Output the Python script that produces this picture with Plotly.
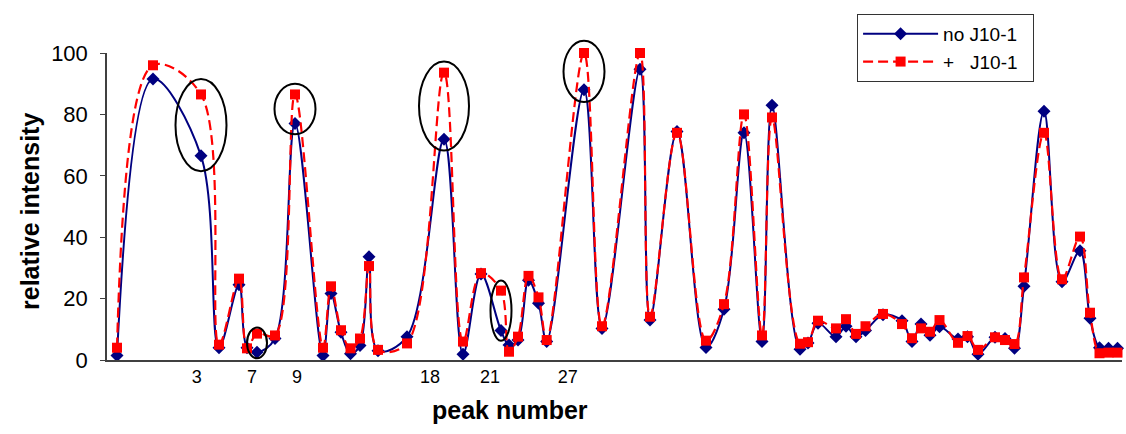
import plotly.graph_objects as go

# peak positions along the separation axis (arbitrary position units)
position = [10, 46, 94, 112, 132, 140, 150, 168, 188, 216, 224, 234, 243.5, 253, 262, 271,
            300, 337, 356, 374, 394, 402, 411, 421.5, 431.5, 439.7, 477, 495, 533, 543, 570,
            599, 617, 637, 655, 665, 693, 701, 711, 729, 739, 749, 758.5, 776, 795, 805, 814,
            823, 832.5, 851, 860.5, 871, 888, 898, 907.5, 917, 937, 955, 973, 983, 992.5,
            1001.5, 1010.5]

no_j10 = [1.5, 91.5, 66.5, 4, 24.5, 4, 2.5, 7, 77, 1.5, 21.7, 9, 2, 4.7, 33.6, 3,
          7.6, 71.9, 1.9, 28, 9.6, 4.9, 6.5, 26, 18.5, 6, 88, 10.3, 94.7, 13, 74.4,
          4.1, 16.5, 74, 6, 83, 3.5, 5.5, 12, 7.6, 11, 7.6, 9.6, 14.7, 12.8, 6, 11.7,
          8.1, 10.8, 6.8, 7.6, 1.9, 7.4, 7, 3.8, 24, 81, 25.5, 35.6, 13.6, 4, 3.8, 3.8]

plus_j10 = [4, 96, 86.5, 5, 26.5, 3.8, 8.6, 8, 86.5, 4, 24, 9.7, 3.8, 7, 30.6, 3.3,
            5.4, 93.6, 6, 28.3, 22.6, 2.7, 7.6, 27.4, 20.4, 6.5, 100, 11, 100, 14.1, 74,
            6.3, 18.2, 80, 8, 79, 5.3, 5.8, 12.8, 10.3, 13.3, 8.5, 11, 15, 11.7, 7.1, 10.3,
            9.2, 13, 5.6, 7.8, 3.3, 7.4, 6.5, 5.2, 26.9, 74, 26.3, 40.2, 15.4, 2.2, 2.4, 2.4]

# labelled peak numbers and where their labels sit on the axis
tick_labels = ["3", "7", "9", "18", "21", "27"]
tick_positions = [89.7, 145, 190, 323, 383, 460.7]

# highlighted peaks (index into the arrays above, 0-based) and ellipse half-sizes
highlight_idx = [2, 6, 8, 17, 20, 26]
highlight_rx = [25.5, 10, 20.5, 25, 10.5, 20.5]
highlight_ry = [15, 5, 8.2, 14.5, 9.8, 10]

Y_MAX = 100

fig = go.Figure()
fig.add_trace(go.Scatter(
    x=position, y=no_j10, name="no J10-1\u00a0\u00a0", mode="lines+markers",
    line=dict(color="#000080", width=2, shape="spline", smoothing=1.0),
    marker=dict(symbol="diamond", size=10, color="#000080"),
    cliponaxis=False,
))
fig.add_trace(go.Scatter(
    x=position, y=plus_j10, name="+\u00a0\u00a0\u00a0J10-1", mode="lines+markers",
    line=dict(color="#FF0000", width=2.2, dash="10px,5px", shape="spline", smoothing=1.0),
    marker=dict(symbol="square", size=10, color="#FF0000"),
    cliponaxis=False,
))

shapes = []
for i, rx, ry in zip(highlight_idx, highlight_rx, highlight_ry):
    cx = position[i]
    cy = (no_j10[i] + plus_j10[i]) / 2
    shapes.append(dict(type="circle", xref="x", yref="paper",
                       x0=cx - rx, x1=cx + rx,
                       y0=(cy - ry) / Y_MAX, y1=(cy + ry) / Y_MAX,
                       line=dict(color="black", width=2)))

fig.update_layout(
    width=1126, height=434,
    margin=dict(l=107, r=4, t=53, b=74),
    paper_bgcolor="white", plot_bgcolor="white",
    font=dict(family="Liberation Sans, Arial, sans-serif", color="black"),
    showlegend=True,
    legend=dict(x=0.739, y=1.127, xanchor="left", yanchor="top",
                bordercolor="#333333", borderwidth=1, bgcolor="white",
                font=dict(size=19), itemwidth=75, tracegroupgap=0),
    shapes=shapes,
    annotations=[
        dict(text="<b>peak number</b>", xref="paper", yref="paper",
             x=(510 - 107) / 1015, y=-(410 - 360) / 307, showarrow=False,
             font=dict(size=25), xanchor="center", yanchor="middle"),
        dict(text="<b>relative intensity</b>", xref="paper", yref="paper",
             x=-(107 - 30) / 1015, y=(360 - 212) / 307, showarrow=False,
             textangle=-90, font=dict(size=25), xanchor="center", yanchor="middle"),
    ],
)
fig.update_xaxes(range=[0, 1015], showgrid=False, zeroline=False,
                 showline=True, linecolor="#404040", linewidth=1.5,
                 tickmode="array", tickvals=tick_positions, ticktext=tick_labels,
                 ticks="", tickfont=dict(size=18))
fig.update_yaxes(range=[0, Y_MAX], showgrid=False, zeroline=False,
                 showline=True, linecolor="#404040", linewidth=1.5,
                 tickmode="array", tickvals=[0, 20, 40, 60, 80, 100],
                 ticks="outside", ticklen=5, tickcolor="#404040",
                 ticklabelstandoff=8, tickfont=dict(size=22))

fig.write_html("out.html")
